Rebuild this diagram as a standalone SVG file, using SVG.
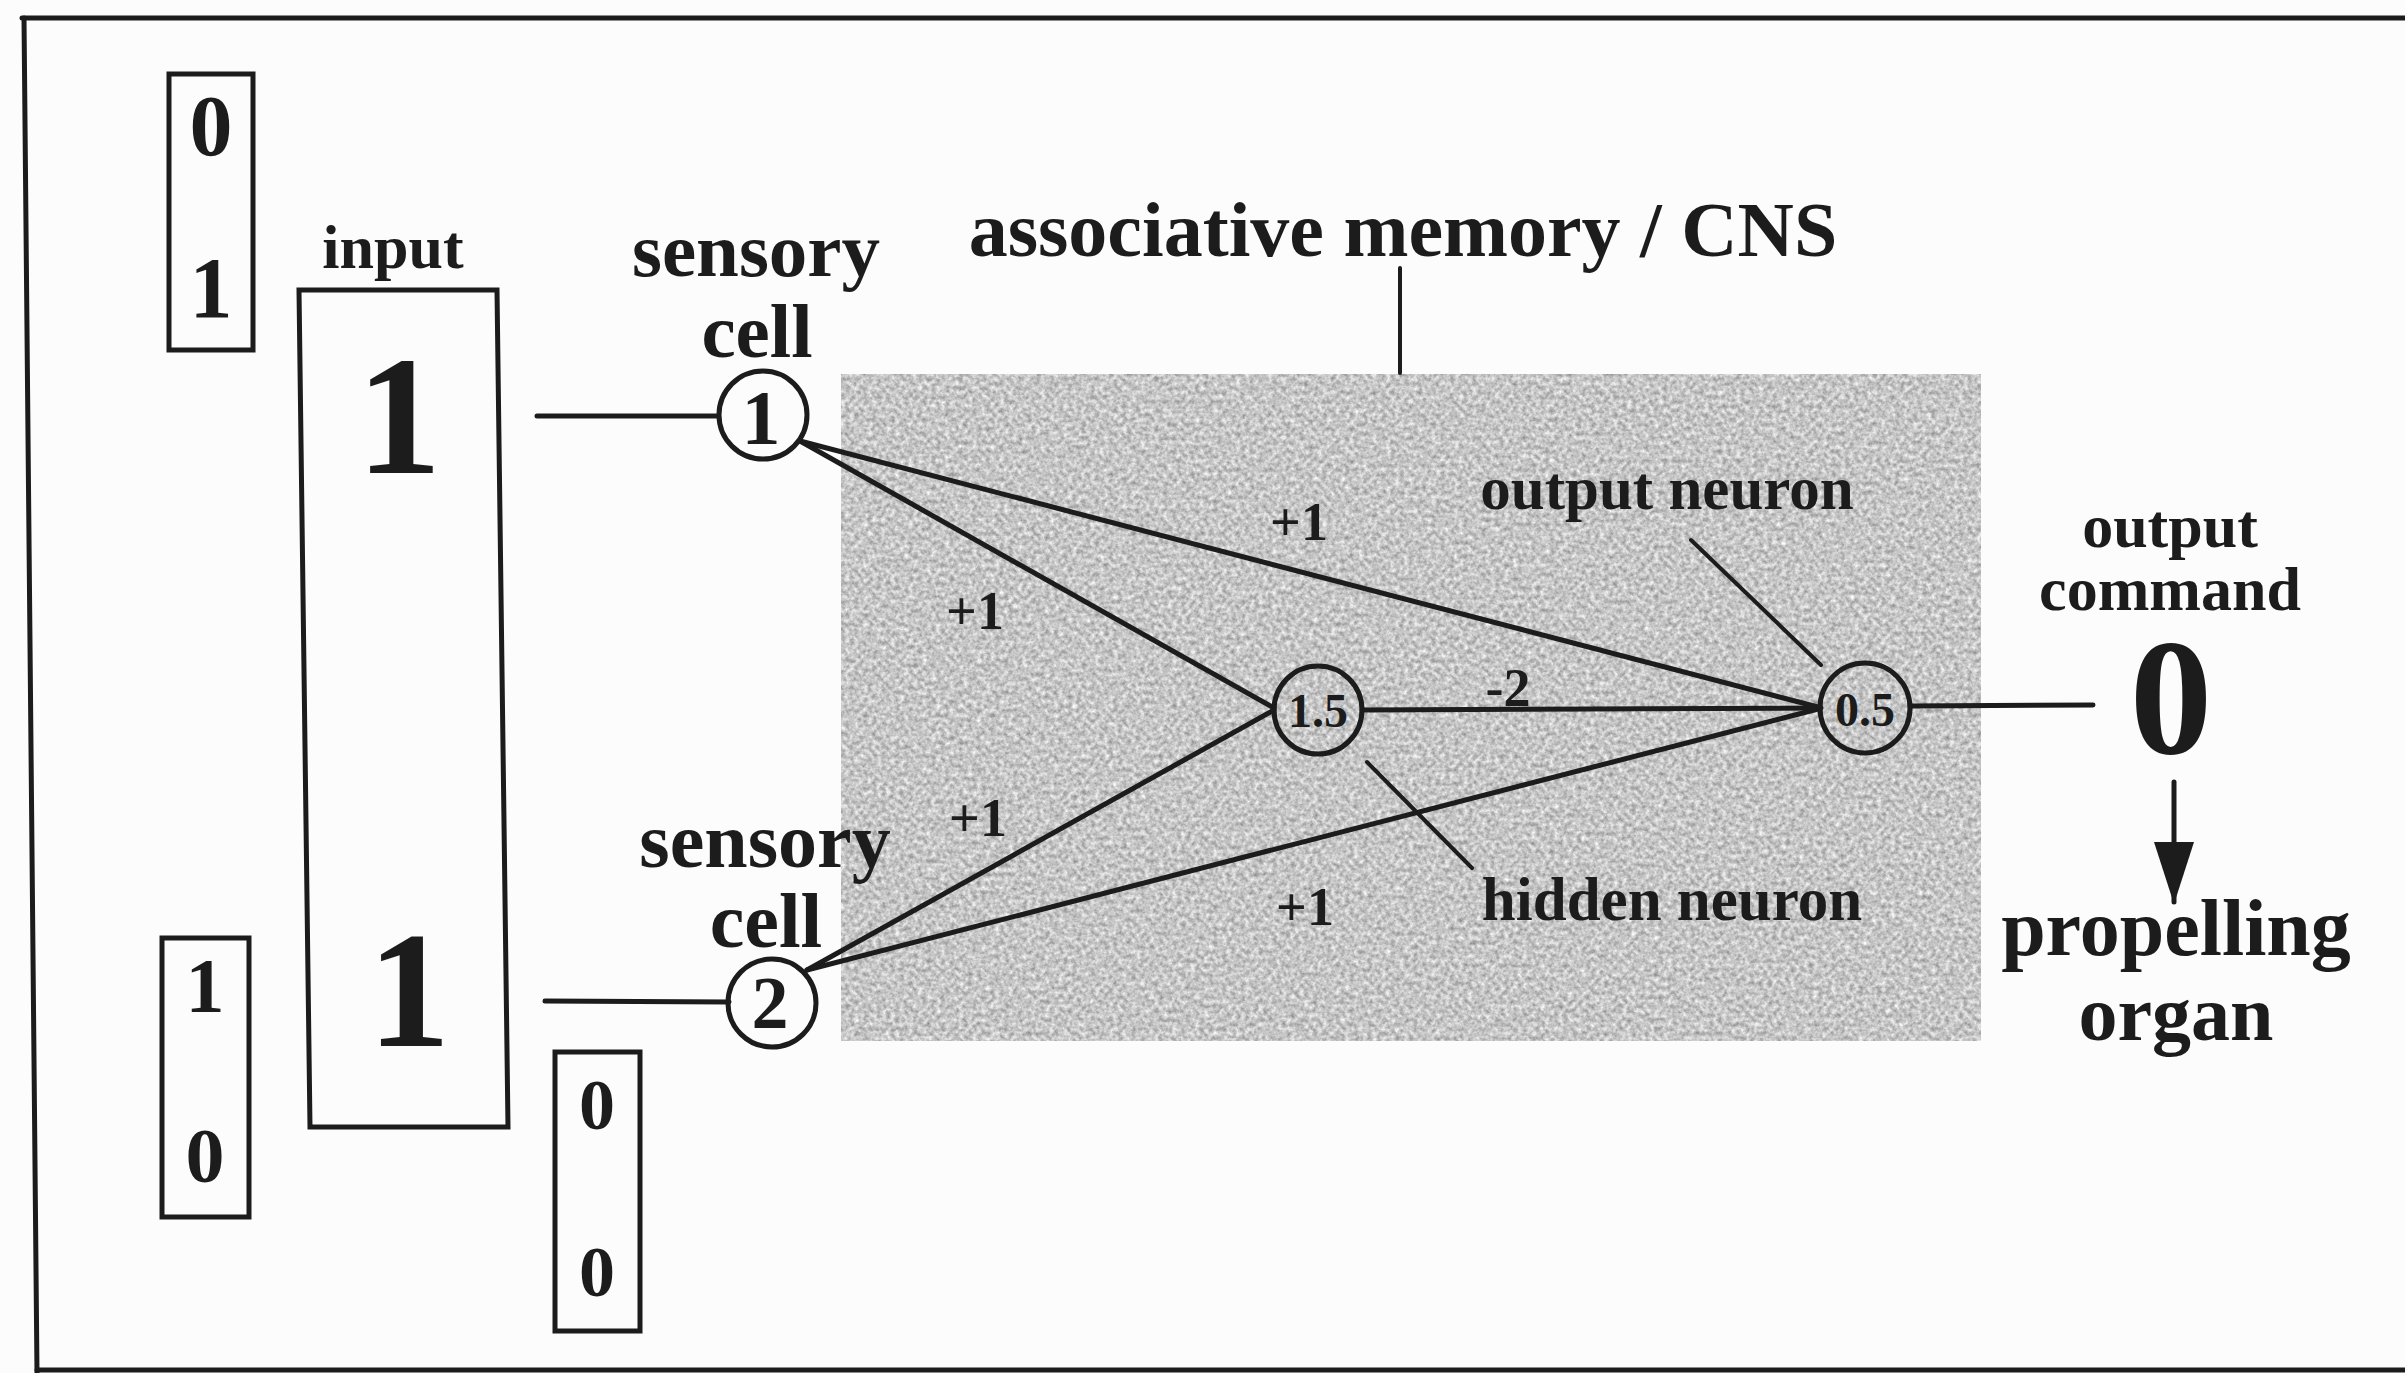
<svg xmlns="http://www.w3.org/2000/svg" width="2405" height="1373" viewBox="0 0 2405 1373">
<defs>
<style>
.t{font-family:"Liberation Serif","Times New Roman",serif;font-weight:bold;fill:#1c1c1c;text-anchor:middle}
.ln{stroke:#1c1c1c;stroke-width:5;fill:none;stroke-linecap:round}
.pt{stroke:#1c1c1c;stroke-width:4;fill:none;stroke-linecap:round}
.box{stroke:#1c1c1c;stroke-width:5;fill:none}
.nd{stroke:#1c1c1c;stroke-width:5;fill:none}
</style>
<filter id="grain" x="0" y="0" width="1" height="1" color-interpolation-filters="sRGB">
<feTurbulence type="fractalNoise" baseFrequency="0.22" numOctaves="3" seed="7" result="n"/>
<feColorMatrix in="n" type="matrix" values="0.55 0 0 0 0.5  0.55 0 0 0 0.5  0.55 0 0 0 0.5  0 0 0 0 1"/>
</filter>
<marker id="ah" markerUnits="userSpaceOnUse" viewBox="0 0 62 40" refX="60" refY="20" markerWidth="62" markerHeight="40" orient="auto">
<path d="M0,0 L62,20 L0,40 z" fill="#1c1c1c"/>
</marker>
</defs>
<rect x="0" y="0" width="2405" height="1373" fill="#fcfcfc"/>
<g id="frame">
<line class="ln" x1="22" y1="18" x2="2405" y2="18"/>
<line class="ln" x1="24" y1="18" x2="37" y2="1373"/>
<line class="ln" x1="37" y1="1370" x2="2405" y2="1370"/>
</g>
<g id="cns-area">
<rect x="841" y="374" width="1140" height="667" fill="#c6c6c6" filter="url(#grain)"/>
<text class="t" x="1403" y="256" font-size="78">associative memory / CNS</text>
<line class="pt" x1="1400" y1="268" x2="1400" y2="373"/>
</g>
<g id="pattern-a">
<rect class="box" x="169" y="74" width="84" height="276"/>
<text class="t" x="211" y="155" font-size="86">0</text>
<text class="t" x="211" y="317" font-size="86">1</text>
</g>
<g id="input">
<text class="t" x="393" y="268" font-size="62">input</text>
<polygon class="box" points="299,290 497,290 508,1127 310,1127"/>
<text class="t" x="399" y="473" font-size="170">1</text>
<text class="t" x="409" y="1046" font-size="165">1</text>
</g>
<g id="pattern-b">
<rect class="box" x="162" y="938" width="87" height="279"/>
<text class="t" x="205" y="1012" font-size="78">1</text>
<text class="t" x="205" y="1182" font-size="78">0</text>
</g>
<g id="pattern-c">
<rect class="box" x="555" y="1052" width="85" height="279"/>
<text class="t" x="597" y="1129" font-size="72">0</text>
<text class="t" x="597" y="1296" font-size="72">0</text>
</g>
<g id="connectors">
<line class="ln" x1="537" y1="416" x2="718" y2="416"/>
<line class="ln" x1="545" y1="1001" x2="729" y2="1002"/>
<line class="ln" x1="800" y1="441" x2="1274" y2="708"/>
<line class="ln" x1="800" y1="441" x2="1818" y2="707"/>
<line class="ln" x1="807" y1="970" x2="1274" y2="710"/>
<line class="ln" x1="807" y1="970" x2="1818" y2="709"/>
<line class="ln" x1="1362" y1="710" x2="1821" y2="708"/>
<line class="ln" x1="1910" y1="706" x2="2093" y2="705"/>
<line class="pt" x1="1691" y1="540" x2="1821" y2="665"/>
<line class="pt" x1="1367" y1="762" x2="1472" y2="868"/>
<line class="ln" x1="2174" y1="782" x2="2174" y2="902" marker-end="url(#ah)"/>
<text class="t" x="1299" y="540" font-size="54">+1</text>
<text class="t" x="975" y="629" font-size="54">+1</text>
<text class="t" x="978" y="836" font-size="54">+1</text>
<text class="t" x="1305" y="925" font-size="54">+1</text>
<text class="t" x="1508" y="706" font-size="54">-2</text>
</g>
<g id="sensory-cell-1">
<text class="t" x="756" y="276" font-size="77">sensory</text>
<text class="t" x="757" y="357" font-size="77">cell</text>
<circle class="nd" cx="763" cy="415" r="44"/>
<text class="t" x="761" y="444" font-size="78">1</text>
</g>
<g id="sensory-cell-2">
<text class="t" x="765" y="867" font-size="78">sensory</text>
<text class="t" x="766" y="947" font-size="78">cell</text>
<circle class="nd" cx="772" cy="1003" r="44"/>
<text class="t" x="770" y="1028" font-size="74">2</text>
</g>
<g id="hidden-neuron">
<circle class="nd" cx="1318" cy="710" r="44"/>
<text class="t" x="1318" y="727" font-size="48">1.5</text>
<text class="t" x="1672" y="920" font-size="61">hidden neuron</text>
</g>
<g id="output-neuron">
<circle class="nd" cx="1865" cy="708" r="45"/>
<text class="t" x="1865" y="726" font-size="48">0.5</text>
<text class="t" x="1667" y="509" font-size="61">output neuron</text>
</g>
<g id="output-command">
<text class="t" x="2170" y="547" font-size="62">output</text>
<text class="t" x="2170" y="610" font-size="62">command</text>
<text class="t" x="2171" y="753" font-size="165">0</text>
</g>
<g id="propelling-organ">
<text class="t" x="2176" y="955" font-size="80">propelling</text>
<text class="t" x="2176" y="1040" font-size="78">organ</text>
</g>
</svg>
